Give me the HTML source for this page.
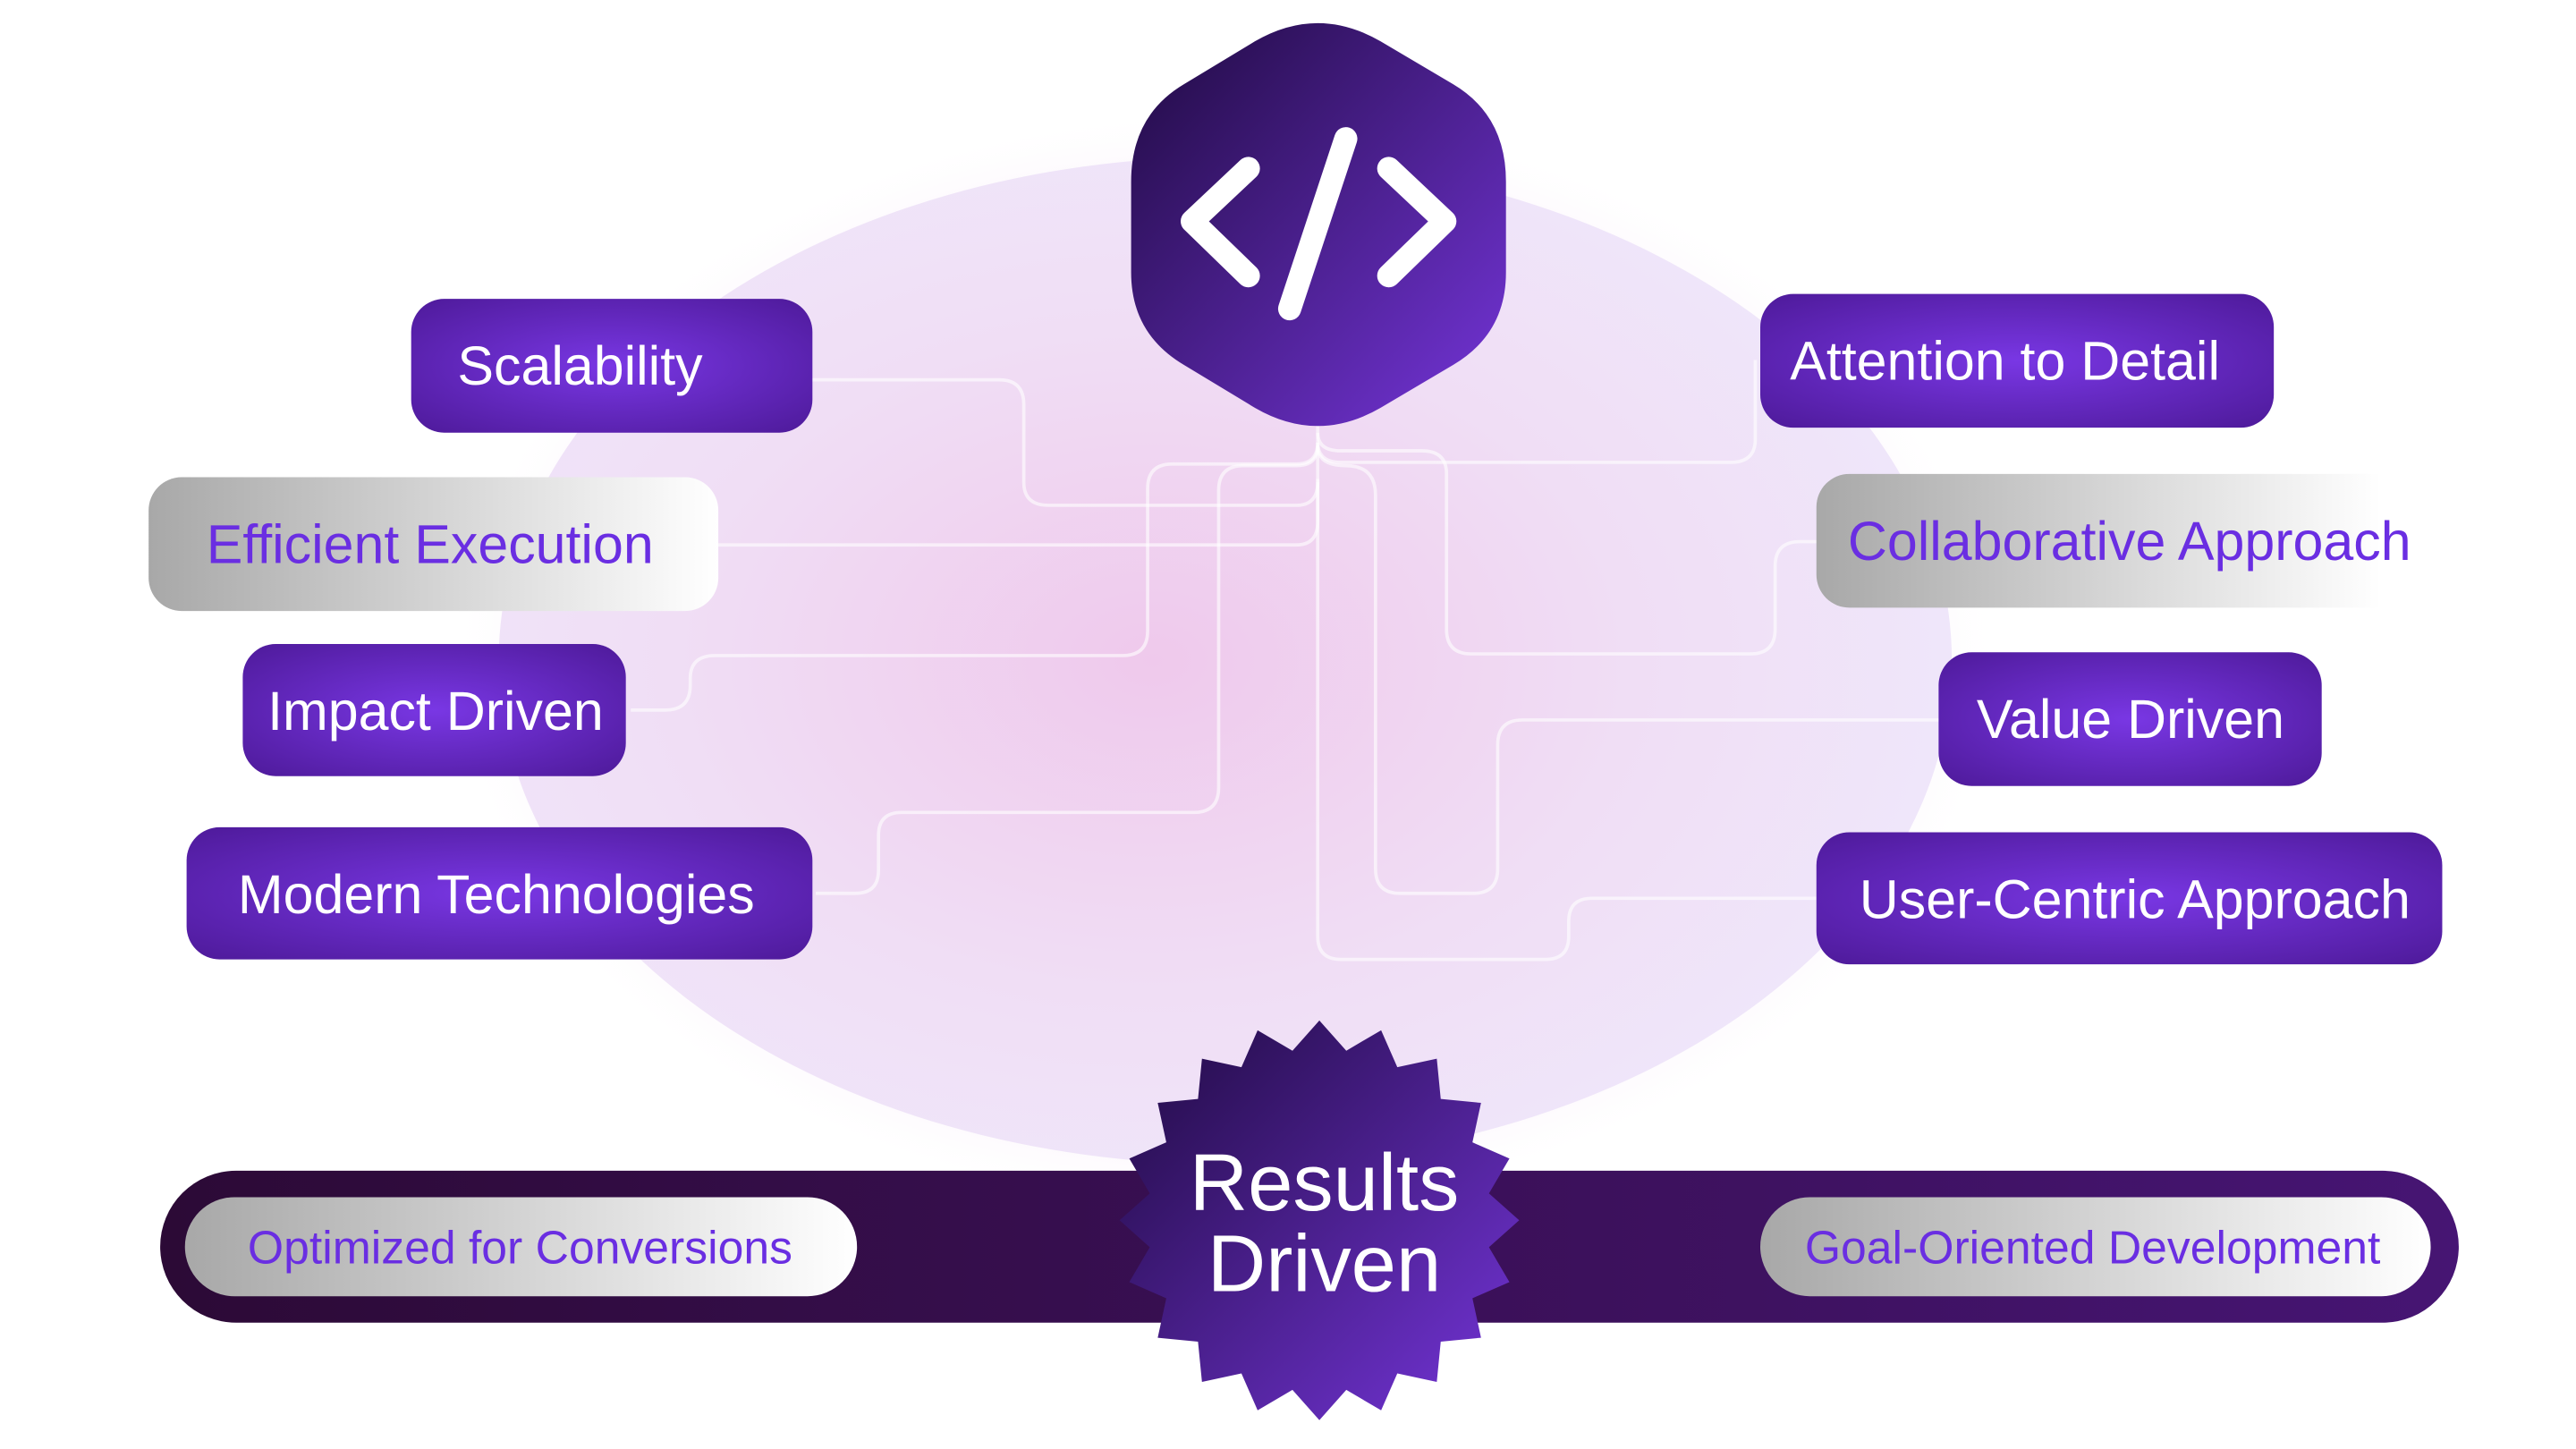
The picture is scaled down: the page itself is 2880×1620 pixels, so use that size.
<!DOCTYPE html>
<html><head><meta charset="utf-8"><style>
html,body{margin:0;padding:0;background:#fff;}
svg{display:block;}
text{font-family:"Liberation Sans",sans-serif;}
</style></head><body>
<svg width="2880" height="1620" viewBox="0 0 1560 877.5" xmlns="http://www.w3.org/2000/svg">
<defs>
<radialGradient id="bg" cx="0.45" cy="0.5" r="0.55">
<stop offset="0" stop-color="#efc9ec"/><stop offset="0.6" stop-color="#f0def5"/><stop offset="1" stop-color="#efe6fa"/>
</radialGradient>
<radialGradient id="glow" cx="0.5" cy="0.5" r="0.5">
<stop offset="0.8" stop-color="#f6e8f6" stop-opacity="1"/><stop offset="1" stop-color="#fff" stop-opacity="0"/>
</radialGradient>
<linearGradient id="dark" x1="0" y1="0" x2="1" y2="1">
<stop offset="0" stop-color="#1f0a40"/><stop offset="1" stop-color="#7535da"/>
</linearGradient>
<radialGradient id="pill" cx="0.5" cy="0.5" r="0.7">
<stop offset="0" stop-color="#7937e4"/><stop offset="1" stop-color="#4e1a9a"/>
</radialGradient>
<linearGradient id="gray" x1="0" y1="0" x2="1" y2="0">
<stop offset="0" stop-color="#a8a8a8"/><stop offset="1" stop-color="#ffffff"/>
</linearGradient>
<linearGradient id="gray2" x1="0" y1="0" x2="1" y2="0">
<stop offset="0" stop-color="#a8a8a8"/><stop offset="0.9" stop-color="#ffffff"/><stop offset="1" stop-color="#ffffff" stop-opacity="0"/>
</linearGradient>
<linearGradient id="bar" x1="0" y1="0" x2="1" y2="0">
<stop offset="0" stop-color="#2c0a36"/><stop offset="1" stop-color="#461573"/>
</linearGradient>
</defs>

<ellipse cx="742" cy="400" rx="470" ry="335" fill="url(#glow)"/>
<ellipse cx="742" cy="400" rx="440" ry="305" fill="url(#bg)"/>

<g fill="none" stroke="#ffffff" stroke-opacity="0.6" stroke-width="2">
<path d="M798 255 V290"/>
<path d="M490 230 H605 Q620 230 620 245 V292 Q620 306 635 306 H785 Q798 306 798 292"/>
<path d="M435 330 H785 Q798 330 798 316 V290"/>
<path d="M382 430 H403 Q418 430 418 415 V411 Q418 397 433 397 H680 Q695 397 695 382 V296 Q695 281 710 281 H785 Q798 281 798 268"/>
<path d="M494 541 H518 Q532 541 532 527 V506 Q532 492 546 492 H723 Q738 492 738 477 V297 Q738 282 753 282 H785 Q798 282 798 270"/>
<path d="M1063 218 V266 Q1063 280 1048 280 H812 Q798 280 798 268"/>
<path d="M1115 328 H1090 Q1075 328 1075 343 V381 Q1075 396 1060 396 H891 Q876 396 876 381 V287 Q876 273 861 273 H812 Q798 273 798 262"/>
<path d="M1180 436 H922 Q907 436 907 451 V526 Q907 541 892 541 H848 Q833 541 833 526 V300 Q833 282 815 282 Q798 282 798 270"/>
<path d="M1100 544 H964 Q950 544 950 558 V567 Q950 581 936 581 H812 Q798 581 798 567 V290"/>
</g>

<path d="M760 25 Q798 3 836 25 L880 51 Q912 70 912 110 V165 Q912 202 880 221 L836 247 Q798 269 760 247 L717 221 Q685 202 685 165 V110 Q685 70 717 51 Z" fill="url(#dark)"/>
<g fill="none" stroke="#fff" stroke-width="14" stroke-linecap="round" stroke-linejoin="round">
<path d="M756 102 L722 134 L756 167"/>
<path d="M841 102 L875 134 L841 167"/>
<path d="M815 84 L781 187"/>
</g>

<rect x="249" y="181" width="243" height="81" rx="20" fill="url(#pill)"/>
<text x="277" y="233" font-size="33" fill="#fff">Scalability</text>
<rect x="90" y="289" width="345" height="81" rx="20" fill="url(#gray)"/>
<text x="125" y="341" font-size="33" fill="#6a2ee2">Efficient Execution</text>
<rect x="147" y="390" width="232" height="80" rx="20" fill="url(#pill)"/>
<text x="162" y="442" font-size="33" fill="#fff">Impact Driven</text>
<rect x="113" y="501" width="379" height="80" rx="20" fill="url(#pill)"/>
<text x="144" y="553" font-size="33" fill="#fff">Modern Technologies</text>

<rect x="1066" y="178" width="311" height="81" rx="20" fill="url(#pill)"/>
<text x="1084" y="230" font-size="33" fill="#fff">Attention to Detail</text>
<rect x="1100" y="287" width="380" height="81" rx="20" fill="url(#gray2)"/>
<text x="1119" y="339" font-size="33" fill="#6a2ee2">Collaborative Approach</text>
<rect x="1174" y="395" width="232" height="81" rx="20" fill="url(#pill)"/>
<text x="1197" y="447" font-size="33" fill="#fff">Value Driven</text>
<rect x="1100" y="504" width="379" height="80" rx="20" fill="url(#pill)"/>
<text x="1126" y="556" font-size="33" fill="#fff">User-Centric Approach</text>

<rect x="97" y="709" width="1392" height="92" rx="46" fill="url(#bar)"/>
<rect x="112" y="725" width="407" height="60" rx="30" fill="url(#gray)"/>
<text x="150" y="765" font-size="28" fill="#6a2ee2">Optimized for Conversions</text>
<rect x="1066" y="725" width="406" height="60" rx="30" fill="url(#gray)"/>
<text x="1093" y="765" font-size="28" fill="#6a2ee2">Goal-Oriented Development</text>

<polygon id="star" fill="url(#dark)" points=""/>
<script>
(function(){var cx=799,cy=739,R=121,r=104,n=20,p=[];for(var i=0;i<2*n;i++){var a=-Math.PI/2+i*Math.PI/n,rr=i%2?r:R;p.push((cx+rr*Math.cos(a)).toFixed(1)+','+(cy+rr*Math.sin(a)).toFixed(1));}document.getElementById('star').setAttribute('points',p.join(' '));})();
</script>
<text x="802" y="733" font-size="49" fill="#fff" text-anchor="middle">Results</text>
<text x="802" y="782" font-size="49" fill="#fff" text-anchor="middle">Driven</text>
</svg>
</body></html>
